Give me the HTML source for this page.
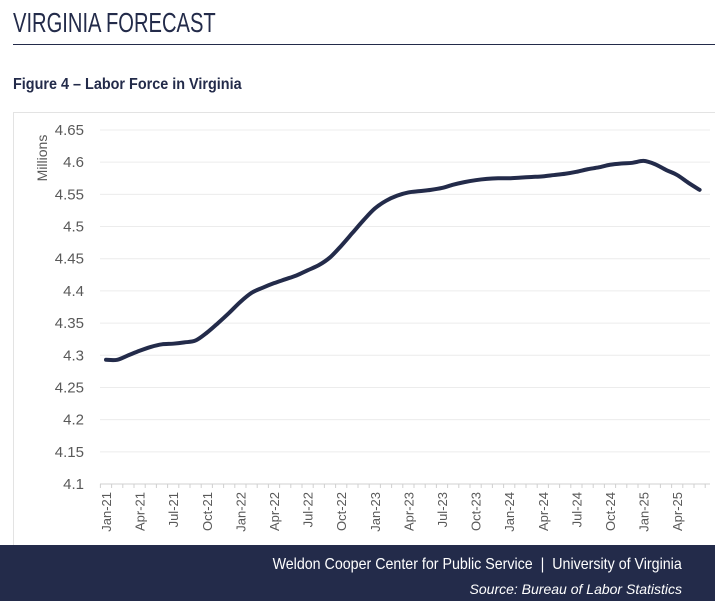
<!DOCTYPE html>
<html><head><meta charset="utf-8">
<style>
body{margin:0;width:715px;height:601px;overflow:hidden;background:#fff;font-family:"Liberation Sans",sans-serif;position:relative}
.t{position:absolute;left:13px;top:7px;font-size:28px;color:#232b4a;transform:scaleX(0.72);transform-origin:0 0;white-space:nowrap}
.rule{position:absolute;left:13px;right:0;top:44px;height:1px;background:#232b4a}
.fig{position:absolute;left:13px;top:76px;font-size:16px;font-weight:bold;color:#232b4a;transform:scaleX(0.9);transform-origin:0 0;white-space:nowrap}
.panel{position:absolute;left:13px;top:112px;width:710px;height:440px;border:1px solid #e3e3e3;box-sizing:border-box}
.foot{position:absolute;left:0;top:545px;width:715px;height:56px;background:#232b4a;color:#fff}
.f1{position:absolute;right:33px;top:11px;font-size:16px;transform:scaleX(0.89);transform-origin:100% 0;white-space:nowrap}
.f2{position:absolute;right:33px;top:36px;font-size:14px;font-style:italic;white-space:nowrap}
svg{position:absolute;left:0;top:0}
</style></head><body>
<div class="t">VIRGINIA FORECAST</div>
<div class="rule"></div>
<div class="fig">Figure 4 – Labor Force in Virginia</div>
<div class="panel"></div>
<svg id="c" width="715" height="601"></svg>
<div class="foot">
<div class="f1">Weldon Cooper Center for Public Service &nbsp;|&nbsp; University of Virginia</div>
<div class="f2">Source: Bureau of Labor Statistics</div>
</div>
<script>
const months=["Jan","Feb","Mar","Apr","May","Jun","Jul","Aug","Sep","Oct","Nov","Dec"];
const values=[4.293,4.293,4.300,4.307,4.313,4.317,4.318,4.320,4.323,4.335,4.350,4.366,
4.383,4.397,4.405,4.412,4.418,4.424,4.432,4.440,4.452,4.470,4.490,4.510,
4.528,4.540,4.548,4.553,4.555,4.557,4.560,4.565,4.569,4.572,4.574,4.575,
4.575,4.576,4.577,4.578,4.580,4.582,4.585,4.589,4.592,4.596,4.598,4.599,
4.602,4.597,4.588,4.580,4.568,4.557];
const yTicks=[4.1,4.15,4.2,4.25,4.3,4.35,4.4,4.45,4.5,4.55,4.6,4.65];
const NS="http://www.w3.org/2000/svg";
const svg=document.getElementById('c');
const x0=106,dx=11.2,yTop=130,yBot=484,vMin=4.1,vMax=4.65;
const X=i=>x0+dx*i;
const Y=v=>yBot-(v-vMin)/(vMax-vMin)*(yBot-yTop);
function mk(t,a){const e=document.createElementNS(NS,t);for(const k in a)e.setAttribute(k,a[k]);svg.appendChild(e);return e;}
yTicks.forEach(v=>{
  if(v>vMin){const g=mk('line',{x1:100,x2:710,y1:Y(v),y2:Y(v),stroke:'#ececec','stroke-width':1});
  
  }
  const t=mk('text',{x:84,y:Y(v)+5,'text-anchor':'end','font-size':15,fill:'#595959','font-family':'Liberation Sans, sans-serif'});
  t.textContent=String(v);
  
  
});
const ax=mk('line',{x1:100,x2:710,y1:yBot,y2:yBot,stroke:'#d0d0d0','stroke-width':1});


for(let i=0;i<=values.length;i++){
  const tk=mk('line',{x1:X(i)-dx/2,x2:X(i)-dx/2,y1:yBot,y2:yBot+4,stroke:'#d0d0d0','stroke-width':1});
  
  
}
values.forEach((v,i)=>{
  if(i%3!==0)return;
  const lab=months[i%12]+"-"+(21+Math.floor(i/12));
  const t=mk('text',{transform:`translate(${X(i)+5},${yBot+8}) rotate(-90)`,'text-anchor':'end','font-size':13,fill:'#595959','font-family':'Liberation Sans, sans-serif'});
  t.textContent=lab;
  
  
});
const yt=mk('text',{transform:'translate(47,158) rotate(-90)','text-anchor':'middle','font-size':14,fill:'#595959','font-family':'Liberation Sans, sans-serif'});
yt.textContent='Millions';


const pts=values.map((v,i)=>[X(i),Y(v)]);
let d='M'+pts[0][0]+','+pts[0][1];
for(let i=1;i<pts.length;i++){
  const p0=pts[Math.max(0,i-2)],p1=pts[i-1],p2=pts[i],p3=pts[Math.min(pts.length-1,i+1)];
  const c1=[p1[0]+(p2[0]-p0[0])/6,p1[1]+(p2[1]-p0[1])/6],c2=[p2[0]-(p3[0]-p1[0])/6,p2[1]-(p3[1]-p1[1])/6];
  d+=` C${c1[0]},${c1[1]} ${c2[0]},${c2[1]} ${p2[0]},${p2[1]}`;
}
const ln=mk('path',{d:d,fill:'none',stroke:'#232b4a','stroke-width':4,'stroke-linejoin':'round','stroke-linecap':'round'});


</script>
</body></html>
